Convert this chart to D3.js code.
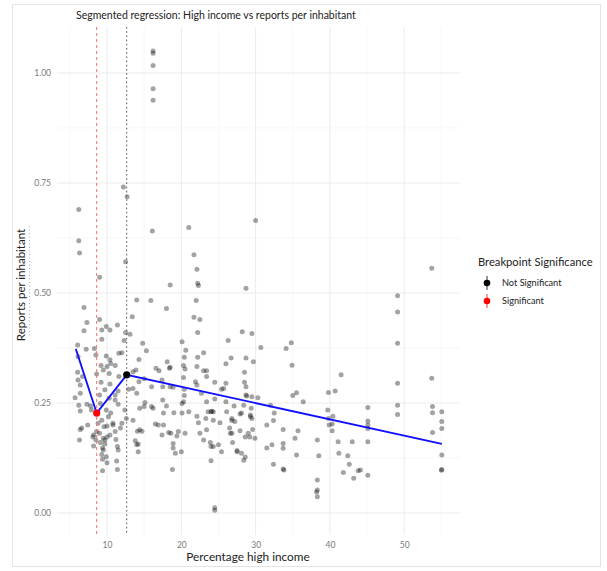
<!DOCTYPE html>
<html><head><meta charset="utf-8">
<script src="https://cdn.jsdelivr.net/npm/d3@7"></script>
<style>body{margin:0;background:#fff}svg{display:block}</style>
</head><body>
<svg id="c" width="607" height="571"></svg>
<script>
// ---- data ----
const title = "Segmented regression: High income vs reports per inhabitant";
const xLabel = "Percentage high income";
const yLabel = "Reports per inhabitant";
const xTicks = [10, 20, 30, 40, 50];
const xMinor = [5, 15, 25, 35, 45, 55];
const yTicks = [0, 0.25, 0.5, 0.75, 1.0];
const yMinor = [0.125, 0.375, 0.625, 0.875];
const legendTitle = "Breakpoint Significance";
const legendItems = ["Not Significant", "Significant"];
const breakpoints = [
  {x: 8.61, y: 0.227, sig: "Significant"},
  {x: 12.65, y: 0.314, sig: "Not Significant"}
];
const fitLine = [[5.8, 0.373], [8.61, 0.227], [12.65, 0.314], [55.05, 0.157]];
const points = [
[16.2,1.050],[16.2,1.045],[16.2,1.017],[16.2,0.964],[16.2,0.938],
[12.2,0.741],[12.7,0.719],[6.2,0.690],[16.1,0.641],[21.0,0.649],[30.0,0.665],
[6.2,0.619],[6.3,0.591],[21.7,0.587],[22.1,0.554],[12.5,0.571],[9.0,0.536],[18.5,0.518],[53.7,0.556],
[22.2,0.522],[22.3,0.517],[28.7,0.511],[14.0,0.484],[15.9,0.483],[22.0,0.483],[49.1,0.494],[49.1,0.457],
[6.9,0.467],[18.0,0.465],[13.4,0.446],[21.7,0.445],[22.5,0.440],[9.0,0.440],
[7.3,0.433],[9.9,0.424],[9.3,0.416],[10.4,0.416],[11.4,0.427],[6.9,0.414],[12.5,0.410],[13.1,0.406],[22.2,0.410],[28.2,0.412],[29.5,0.408],
[9.3,0.395],[12.3,0.392],[14.8,0.386],[20.1,0.389],[26.3,0.392],[34.8,0.387],[49.1,0.386],
[6.05,0.382],[7.2,0.372],[8.3,0.374],[12.0,0.364],[15.3,0.369],[20.6,0.370],[30.7,0.376],[34.1,0.374],
[22.2,0.354],[6.1,0.355],[8.5,0.359],[9.9,0.357],[10.4,0.348],[11.6,0.363],[14.3,0.349],[18.1,0.344],[20.4,0.354],[23.0,0.364],[26.7,0.352],[28.7,0.352],[29.7,0.344],[10.5,0.340],
[9.2,0.335],[10.0,0.333],[11.1,0.335],[16.6,0.329],[18.5,0.331],[20.3,0.335],[22.1,0.333],[26.0,0.339],[34.9,0.336],[17.0,0.323],
[6.05,0.320],[8.6,0.316],[10.3,0.317],[11.6,0.310],[13.5,0.321],[13.9,0.325],[9.5,0.325],[20.5,0.327],[23.0,0.323],[23.4,0.323],[28.5,0.320],[18.4,0.329],[41.5,0.314],[53.7,0.306],
[15.0,0.305],[17.4,0.302],[6.1,0.302],[6.7,0.310],[23.4,0.310],[20.3,0.308],[14.3,0.298],
[9.2,0.297],[10.4,0.293],[21.9,0.298],[22.1,0.291],[24.5,0.297],[26.0,0.295],[28.5,0.297],[49.1,0.295],[6.4,0.291],
[13.5,0.283],[16.0,0.287],[18.5,0.287],[20.4,0.281],[17.5,0.287],[18.9,0.286],[25.7,0.283],[25.4,0.281],[28.7,0.287],
[9.7,0.280],[11.5,0.277],[12.9,0.281],[39.8,0.274],[40.7,0.277],
[5.7,0.262],[6.4,0.272],[9.0,0.268],[10.3,0.261],[14.0,0.272],[22.7,0.272],[20.4,0.267],[28.7,0.268],[28.8,0.266],[30.3,0.262],[35.0,0.267],[35.5,0.273],[29.5,0.264],[11.1,0.268],[11.1,0.257],[24.5,0.259],
[15.1,0.251],[17.5,0.257],[20.3,0.253],[36.4,0.253],[23.4,0.253],[26.0,0.253],
[6.2,0.245],[7.3,0.247],[9.1,0.249],[11.5,0.247],[20.1,0.249],[32.0,0.245],[28.4,0.245],[49.1,0.245],[7.8,0.243],[27.1,0.243],[15.0,0.242],[16.0,0.242],[18.0,0.243],[53.8,0.242],[45.1,0.240],
[6.4,0.232],[12.4,0.234],[16.2,0.238],[14.4,0.238],[19.0,0.228],[21.0,0.230],[7.9,0.234],[9.9,0.234],[29.4,0.238],[39.7,0.234],[53.8,0.228],[55.05,0.230],
[10.5,0.227],[20.1,0.227],[17.6,0.227],[28.1,0.227],[32.5,0.227],[27.9,0.225],[29.3,0.223],[49.1,0.224],[22.1,0.220],[40.4,0.220],[29.3,0.219],
[23.6,0.230],[24.0,0.230],[24.3,0.230],[24.1,0.231],[26.1,0.230],
[10.2,0.219],[12.6,0.215],[39.8,0.215],[26.8,0.215],[23.3,0.215],[29.5,0.215],[9.3,0.211],[13.5,0.211],[24.3,0.211],[26.8,0.210],[32.4,0.210],[45.1,0.209],[55.05,0.208],[27.2,0.208],
[8.8,0.204],[10.8,0.204],[12.0,0.204],[16.5,0.202],[22.3,0.205],[25.2,0.205],[40.3,0.202],[7.4,0.200],[10.0,0.198],[10.8,0.200],[17.6,0.200],[31.5,0.200],[39.9,0.200],[45.1,0.200],[16.9,0.200],
[9.6,0.196],[11.8,0.193],[26.5,0.193],[6.6,0.193],[45.1,0.192],[55.05,0.192],[6.4,0.190],[29.6,0.190],[33.7,0.190],[23.4,0.189],[14.4,0.189],
[8.6,0.185],[11.1,0.185],[14.1,0.186],[14.7,0.186],[35.7,0.187],[40.3,0.187],[27.9,0.187],[19.6,0.185],
[9.0,0.181],[18.3,0.183],[18.6,0.181],[20.5,0.181],[22.5,0.181],[26.6,0.181],[29.0,0.181],[26.8,0.181],[53.8,0.183],
[8.1,0.173],[10.0,0.173],[8.2,0.177],[10.4,0.177],[17.4,0.177],[19.4,0.175],[28.6,0.173],[29.2,0.173],[35.3,0.170],[29.9,0.170],[9.5,0.170],
[6.3,0.166],[9.7,0.166],[11.2,0.167],[8.5,0.166],[23.0,0.166],[38.3,0.166],[13.8,0.164],
[9.1,0.160],[9.7,0.157],[23.9,0.160],[26.9,0.160],[18.9,0.158],[33.7,0.158],[41.1,0.162],[43.0,0.162],[45.1,0.162],[14.2,0.157],
[8.2,0.152],[11.4,0.151],[24.3,0.151],[24.0,0.151],[14.0,0.155],[25.0,0.155],[32.2,0.155],
[9.4,0.148],[18.9,0.148],[31.5,0.148],[33.7,0.147],[11.5,0.143],[9.5,0.143],[27.5,0.142],
[14.2,0.139],[20.0,0.139],[25.4,0.139],[27.5,0.139],[19.2,0.136],[28.1,0.136],[41.2,0.136],[9.3,0.133],[35.5,0.132],[55.05,0.132],
[9.9,0.128],[28.6,0.127],[9.4,0.122],[28.4,0.120],[24.0,0.119],[11.3,0.118],[10.0,0.114],[32.4,0.111],[42.6,0.111],[42.4,0.130],[38.5,0.130],
[11.4,0.099],[18.8,0.099],[33.7,0.100],[33.8,0.098],[44.1,0.098],[55.05,0.099],[55.0,0.097],[9.4,0.096],[43.8,0.096],[41.8,0.092],[45.1,0.086],
[43.2,0.079],[38.3,0.075],[38.3,0.052],[38.2,0.048],[38.3,0.037],
[24.5,0.012],[24.5,0.006]
];

// ---- chart ----
const svg = d3.select("#c");
const FONT = "Lato, 'Open Sans', sans-serif";
const P = {l: 57, r: 460, t: 27, b: 535};
const x = d3.scaleLinear().domain([3.27, 57.5]).range([P.l, P.r]);
const y = d3.scaleLinear().domain([-0.05, 1.1045]).range([P.b, P.t]);

// outer frame
svg.append("rect").attr("x", 12.5).attr("y", 4.5).attr("width", 588).attr("height", 562)
  .attr("fill", "none").attr("stroke", "#e4e4e4").attr("stroke-width", 1);

const grid = svg.append("g");
grid.selectAll(".vmin").data(xMinor).join("line")
  .attr("x1", d => x(d)).attr("x2", d => x(d)).attr("y1", P.t).attr("y2", P.b)
  .attr("stroke", "#f2f2f2").attr("stroke-width", 0.6);
grid.selectAll(".hmin").data(yMinor).join("line")
  .attr("y1", d => y(d)).attr("y2", d => y(d)).attr("x1", P.l).attr("x2", P.r)
  .attr("stroke", "#f2f2f2").attr("stroke-width", 0.6);
grid.selectAll(".vmaj").data(xTicks).join("line")
  .attr("x1", d => x(d)).attr("x2", d => x(d)).attr("y1", P.t).attr("y2", P.b)
  .attr("stroke", "#ebebeb").attr("stroke-width", 1);
grid.selectAll(".hmaj").data(yTicks).join("line")
  .attr("y1", d => y(d)).attr("y2", d => y(d)).attr("x1", P.l).attr("x2", P.r)
  .attr("stroke", "#ebebeb").attr("stroke-width", 1);

// axes (labels only)
const xa = svg.append("g").attr("transform", `translate(0,${P.b})`)
  .call(d3.axisBottom(x).tickValues(xTicks).tickSize(0).tickPadding(7).tickFormat(d3.format("d")));
const ya = svg.append("g").attr("transform", `translate(${P.l},0)`)
  .call(d3.axisLeft(y).tickValues(yTicks).tickSize(0).tickPadding(6).tickFormat(d3.format(".2f")));
[xa, ya].forEach(a => {
  a.select(".domain").remove();
  a.selectAll("text").attr("fill", "#7a7a7a").style("font-family", FONT).style("font-size", "8.5px");
});

// points
svg.append("g").selectAll("circle").data(points).join("circle")
  .attr("cx", d => x(d[0])).attr("cy", d => y(d[1])).attr("r", 2.5)
  .attr("fill", "#000").attr("fill-opacity", 0.36);

// breakpoint vlines
const bpColor = {"Significant": "#ff0000", "Not Significant": "#000000"};
svg.append("g").selectAll("line").data(breakpoints).join("line")
  .attr("x1", d => x(d.x)).attr("x2", d => x(d.x)).attr("y1", P.t).attr("y2", P.b)
  .attr("stroke", d => d.sig === "Significant" ? "#f07070" : "#555")
  .attr("stroke-width", 1)
  .attr("stroke-dasharray", d => d.sig === "Significant" ? "3,3" : "1.6,2.6");

// fit line
svg.append("path").datum(fitLine)
  .attr("d", d3.line().x(d => x(d[0])).y(d => y(d[1])))
  .attr("fill", "none").attr("stroke", "#0f0fff").attr("stroke-width", 1.8);

// breakpoints
svg.append("g").selectAll("circle").data(breakpoints).join("circle")
  .attr("cx", d => x(d.x)).attr("cy", d => y(d.y)).attr("r", 3.6)
  .attr("fill", d => bpColor[d.sig]);

// title
svg.append("text").attr("x", 76).attr("y", 19).text(title)
  .style("font-family", FONT).style("font-size", "10.5px").attr("fill", "#222");

// axis labels
svg.append("text").attr("x", 248).attr("y", 561).attr("text-anchor", "middle").text(xLabel)
  .style("font-family", FONT).style("font-size", "11.8px").attr("fill", "#222");
svg.append("text").attr("transform", "translate(25,285) rotate(-90)").attr("text-anchor", "middle").text(yLabel)
  .style("font-family", FONT).style("font-size", "11.5px").attr("fill", "#222");
svg.append("line").attr("x1", 29.5).attr("x2", 29.5).attr("y1", 226).attr("y2", 338)
  .attr("stroke", "#8fb3e0").attr("stroke-width", 1).attr("stroke-dasharray", "1,2.5");

// legend
const lg = svg.append("g").attr("transform", "translate(478,0)");
lg.append("text").attr("x", 0).attr("y", 266).text(legendTitle)
  .style("font-family", FONT).style("font-size", "11.2px").attr("fill", "#222");
const li = lg.selectAll(".li").data(legendItems).join("g")
  .attr("transform", (d, i) => `translate(9,${283 + i * 18})`);
li.append("line").attr("y1", -7).attr("y2", 7).attr("stroke", d => bpColor[d]).attr("stroke-width", 0.8);
li.append("circle").attr("r", 3.3).attr("fill", d => bpColor[d]);
li.append("text").attr("x", 15).attr("y", 3).text(d => d)
  .style("font-family", FONT).style("font-size", "9.2px").attr("fill", "#222");
</script>
</body></html>
